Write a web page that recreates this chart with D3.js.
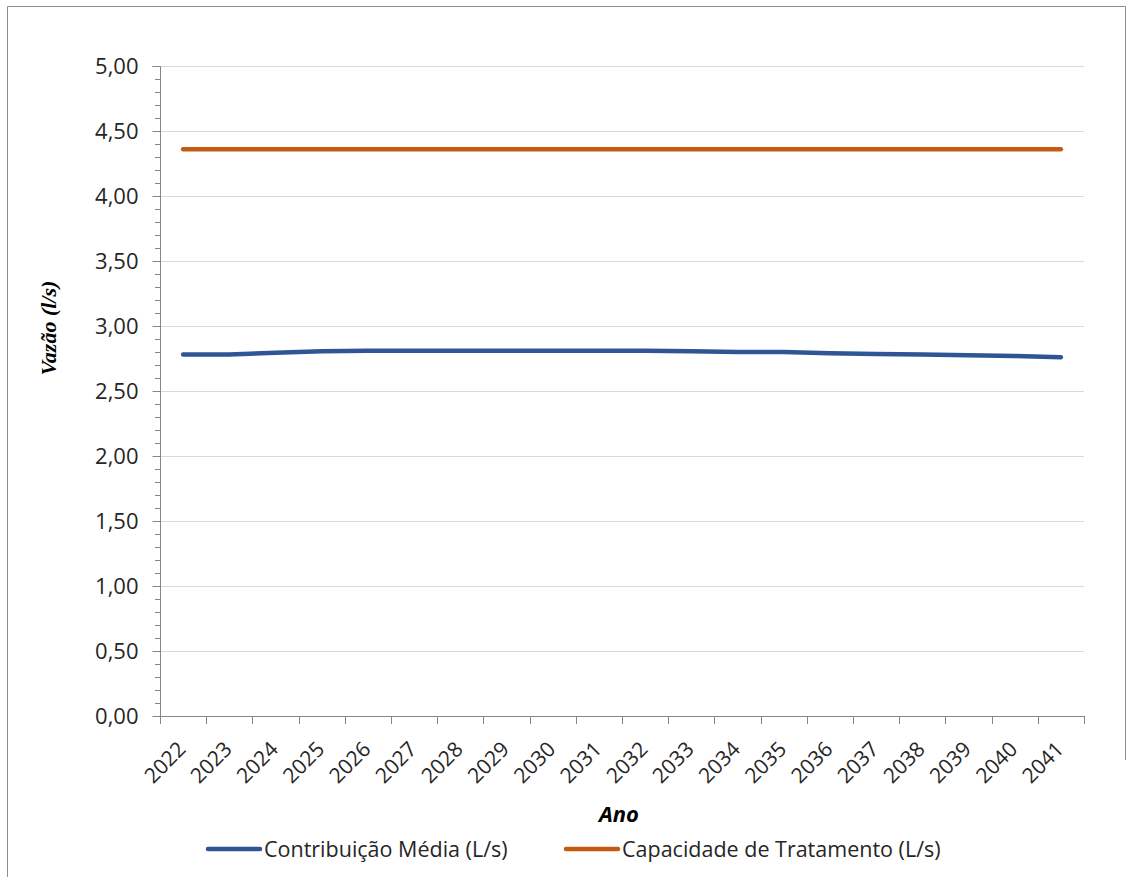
<!DOCTYPE html>
<html>
<head>
<meta charset="utf-8">
<script src="https://cdn.jsdelivr.net/npm/d3@7"></script>
<style>
  body { margin: 0; background: #fff; }
  svg { display: block; }
</style>
</head>
<body>
<svg id="chart" width="1132" height="881"></svg>
<script>
const years = ["2022","2023","2024","2025","2026","2027","2028","2029","2030","2031",
               "2032","2033","2034","2035","2036","2037","2038","2039","2040","2041"];
const contribuicaoMedia = [2.78,2.78,2.795,2.805,2.81,2.81,2.81,2.81,2.81,2.81,
                           2.81,2.805,2.80,2.80,2.79,2.785,2.78,2.775,2.77,2.76];
const capacidadeTratamento = [4.36,4.36,4.36,4.36,4.36,4.36,4.36,4.36,4.36,4.36,
                              4.36,4.36,4.36,4.36,4.36,4.36,4.36,4.36,4.36,4.36];
const yTicks = [0,0.5,1,1.5,2,2.5,3,3.5,4,4.5,5];
const seriesNames = ["Contribuição Média (L/s)", "Capacidade de Tratamento (L/s)"];
const seriesColors = ["#2F5597", "#C55A11"];

const font = "'Open Sans', sans-serif";
const svg = d3.select("#chart");

// frame (top and left edges visible in the reference)
svg.append("path").attr("d", "M7.5,877V6.5H1125.5V760")
  .attr("fill", "none").attr("stroke", "#8c8c8c").attr("stroke-width", 1);

const pLeft = 160, pRight = 1084, pTop = 66, pBottom = 716;
const x = d3.scaleBand().domain(years).range([pLeft, pRight]).paddingInner(0).paddingOuter(0);
const y = d3.scaleLinear().domain([0, 5]).range([pBottom, pTop]);
const fmt = v => d3.format(".2f")(v).replace(".", ",");

// gridlines
svg.append("g").selectAll("line").data(yTicks.filter(d => d > 0)).join("line")
  .attr("x1", pLeft).attr("x2", pRight)
  .attr("y1", d => Math.round(y(d)) + 0.5).attr("y2", d => Math.round(y(d)) + 0.5)
  .attr("stroke", "#d9d9d9").attr("stroke-width", 1.2);

// y axis minor ticks
const minor = d3.range(0, 50).map(i => i / 10).filter(v => Math.round(v * 10) % 5 !== 0);
svg.append("g").selectAll("line").data(minor).join("line")
  .attr("x1", pLeft - 5).attr("x2", pLeft)
  .attr("y1", d => Math.round(y(d)) + 0.5).attr("y2", d => Math.round(y(d)) + 0.5)
  .attr("stroke", "#868686").attr("stroke-width", 1);

// y axis
const yAxis = svg.append("g").attr("transform", `translate(${pLeft + 0.5},0)`)
  .call(d3.axisLeft(y).tickValues(yTicks).tickFormat(fmt).tickSize(8).tickPadding(14));
yAxis.select(".domain").attr("stroke", "#868686").attr("d", `M-8,${pTop}.5H0V${pBottom}.5`);
yAxis.selectAll(".tick line").attr("stroke", "#868686");
yAxis.selectAll(".tick text").attr("font-family", font).attr("font-size", 22).attr("fill", "#262626")
  .attr("dy", "0.36em");

// x axis
const xAxis = svg.append("g").attr("transform", `translate(0,${pBottom + 0.5})`)
  .call(d3.axisBottom(x).tickSize(0).tickPadding(0));
xAxis.select(".domain").attr("stroke", "#868686").attr("d", `M${pLeft},0H${pRight}`);
xAxis.selectAll(".tick line").remove();
svg.append("g").selectAll("line").data(years.concat(["end"])).join("line")
  .attr("x1", (d, i) => Math.round(pLeft + i * x.bandwidth()) + 0.5)
  .attr("x2", (d, i) => Math.round(pLeft + i * x.bandwidth()) + 0.5)
  .attr("y1", pBottom).attr("y2", pBottom + 8)
  .attr("stroke", "#868686");
xAxis.selectAll(".tick text")
  .attr("font-family", font).attr("font-size", 21).attr("fill", "#262626")
  .attr("text-anchor", "end").attr("dy", 0).attr("y", 0)
  .attr("transform", "translate(4,34) rotate(-45)");

// lines
const line = d3.line().x((d, i) => x(years[i]) + x.bandwidth() / 2).y(d => y(d));
[contribuicaoMedia, capacidadeTratamento].forEach((s, k) => {
  svg.append("path").datum(s).attr("d", line).attr("fill", "none")
    .attr("stroke", seriesColors[k]).attr("stroke-width", 4.5)
    .attr("stroke-linecap", "round").attr("stroke-linejoin", "round");
});

// axis titles
svg.append("text").attr("transform", "translate(56,328) rotate(-90)")
  .attr("text-anchor", "middle").attr("font-family", "'Liberation Serif', serif")
  .attr("font-weight", "bold").attr("font-style", "italic").attr("font-size", 22)
  .attr("fill", "#000").text("Vazão (l/s)");
svg.append("text").attr("x", 619).attr("y", 822)
  .attr("text-anchor", "middle").attr("font-family", font)
  .attr("font-weight", "bold").attr("font-style", "italic").attr("font-size", 22)
  .attr("fill", "#000").text("Ano");

// legend
const legendX = [208, 566];
seriesNames.forEach((n, k) => {
  const g = svg.append("g");
  g.append("line").attr("x1", legendX[k]).attr("x2", legendX[k] + 52)
    .attr("y1", 849).attr("y2", 849).attr("stroke", seriesColors[k])
    .attr("stroke-width", 4.5).attr("stroke-linecap", "round");
  g.append("text").attr("x", legendX[k] + 56).attr("y", 857)
    .attr("font-family", font).attr("font-size", 21.5).attr("fill", "#262626").text(n);
});
</script>
</body>
</html>
